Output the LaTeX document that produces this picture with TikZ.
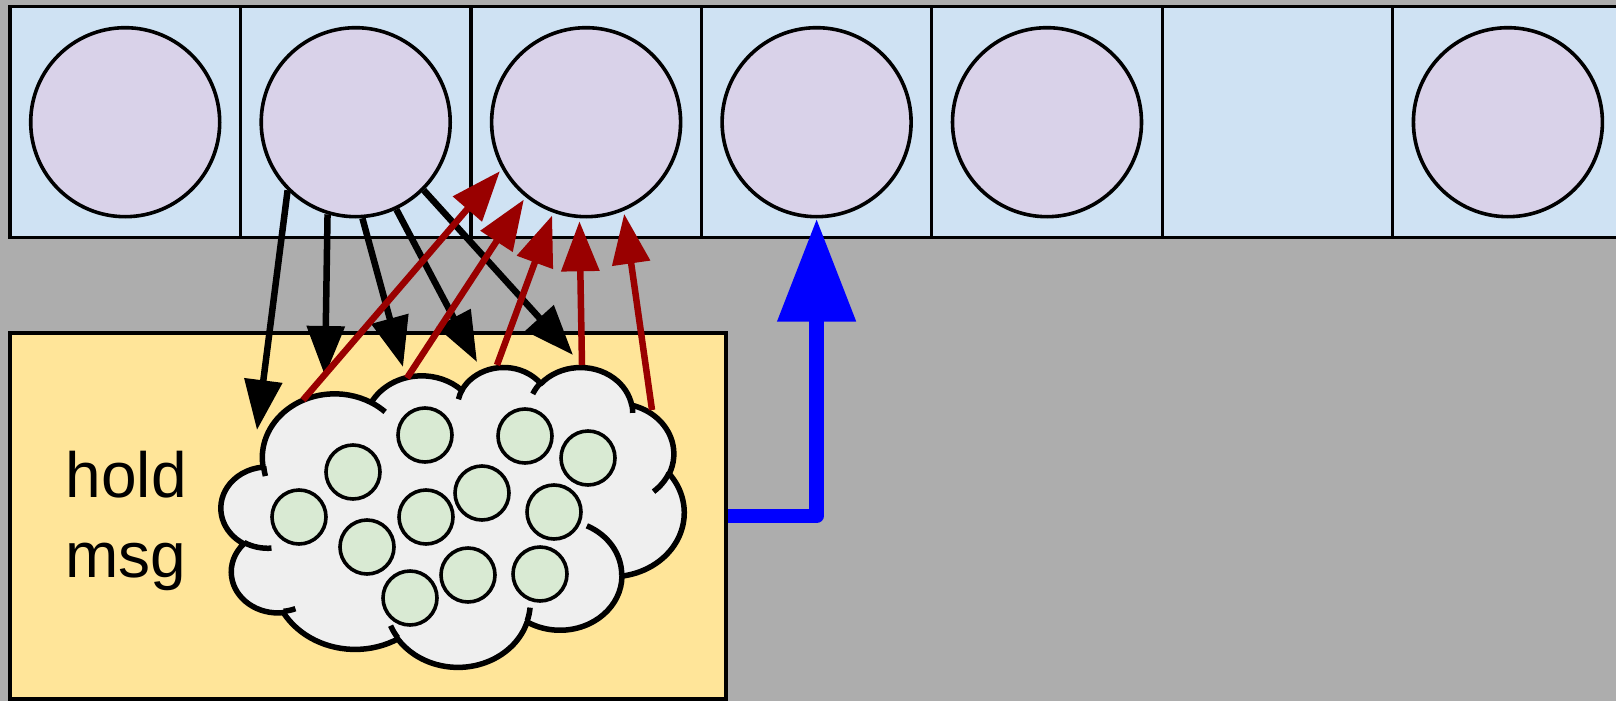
\documentclass[tikz,border=0pt]{standalone}
\usepackage{fontspec}
\setmainfont{Liberation Sans}
\usetikzlibrary{arrows.meta}

\definecolor{bggray}{RGB}{173,173,173}
\definecolor{slotblue}{RGB}{207,226,243}
\definecolor{proclilac}{RGB}{217,210,233}
\definecolor{holdyellow}{RGB}{255,229,153}
\definecolor{cloudgray}{RGB}{239,239,239}
\definecolor{msggreen}{RGB}{217,234,211}
\definecolor{darkred}{RGB}{153,0,0}

% one bump of the cloud: x radius, y radius, start angle, sweep
\tikzset{
  puff/.style n args={4}{insert path={arc[x radius=#1, y radius=#2,
      start angle={atan2(#1*sin(#3),#2*cos(#3))},
      delta angle={Mod(atan2(#1*sin(#3+#4),#2*cos(#3+#4))-atan2(#1*sin(#3),#2*cos(#3)),360)}]}}
}

\begin{document}
\begin{tikzpicture}[x=0.1mm, y=-0.1mm,
    slot/.style={rectangle, draw, line width=0.33mm, fill=slotblue,
      minimum width=23.045mm, minimum height=23.1mm, inner sep=0},
    proc/.style={circle, draw, line width=0.36mm, fill=proclilac, minimum size=18.9mm, inner sep=0},
    msg/.style={circle, draw, line width=0.36mm, fill=msggreen, minimum size=5.4mm, inner sep=0},
    take/.style={line width=0.65mm, -{Triangle[length=5mm, width=3.7mm]}},
    give/.style={line width=0.65mm, draw=darkred, -{Triangle[length=5mm, width=3.7mm]}, shorten >=0.3mm},
    wake/.style={line width=1.45mm, draw=blue, line join=round, -{Triangle[length=10.3mm, width=7.5mm]}},
    cloudline/.style={line width=0.55mm, line join=round}]
    \useasboundingbox (0,0) rectangle (1616,701);
    \clip (0,0) rectangle (1616,701);
    \fill[bggray] (0,0) rectangle (1616,701);

    % the row of slots
    \node[slot] (slot1) at (125.2,122.2) {};
    \node[slot] (slot2) at (355.7,122.2) {};
    \node[slot] (slot3) at (586.1,122.2) {};
    \node[slot] (slot4) at (816.6,122.2) {};
    \node[slot] (slot5) at (1047.0,122.2) {};
    \node[slot] (slot6) at (1277.5,122.2) {};
    \node[slot] (slot7) at (1507.9,122.2) {};

    \node[proc] (p1) at (slot1) {};
    \node[proc] (p2) at (slot2) {};
    \node[proc] (p3) at (slot3) {};
    \node[proc] (p4) at (slot4) {};
    \node[proc] (p5) at (slot5) {};
    \node[proc] (p7) at (slot7) {};

    % holding area
    \node[rectangle, draw, line width=0.33mm, fill=holdyellow, minimum width=71.6mm,
      minimum height=36.6mm, inner sep=0] (hold) at (368,516) {};
    \node[anchor=west, align=left, inner sep=0, font=\fontsize{18.2pt}{22.6pt}\selectfont]
      (label) at (65,521) {hold\\msg};

    % the cloud
    \begin{scope}[xshift=22.12mm, yshift=-36.65mm, x=0.10714mm, y=-0.0694mm]
      \draw[cloudline, fill=cloudgray] (39.00,143.70)
        [puff={67.53}{91.90}{-190.4875}{123.7805}]
        [puff={53.33}{72.67}{-144.1024}{89.9452}]
        [puff={43.65}{59.45}{-145.8079}{99.7230}]
        [puff={48.57}{65.95}{-130.9861}{117.2417}]
        [puff={53.33}{72.73}{-78.7089}{109.0269}]
        [puff={67.75}{92.20}{-46.2673}{130.2690}]
        [puff={57.85}{78.67}{0.6250}{114.0333}]
        [puff={67.52}{92.15}{22.4516}{115.1726}]
        [puff={77.20}{105.43}{66.2426}{75.7110}]
        [puff={43.60}{59.18}{-274.9421}{146.7356}]
        [puff={43.45}{59.45}{-246.8285}{152.5189}] -- cycle;
      \draw[cloudline]
        (46.93,261.77) [puff={43.45}{59.45}{86.7420}{26.4295}]
        (69.28,348.99) [puff={43.60}{59.18}{73.6105}{11.4475}]
        (164.78,390.90) [puff={67.52}{92.15}{137.6242}{14.0811}]
        (288.27,347.51) [puff={67.52}{92.15}{6.4533}{15.9984}]
        (341.29,229.54) [puff={57.85}{78.67}{-70.2924}{70.9174}]
        (417.98,153.54) [puff={53.33}{72.73}{30.3180}{27.7515}]
        (383.24,54.26) [puff={48.57}{65.95}{-13.7443}{14.8589}]
        (290.78,39.52) [puff={48.57}{65.95}{-149.1815}{18.1954}]
        (221.41,47.20) [puff={43.65}{59.45}{-163.4943}{17.6864}]
        (140.00,51.92) [puff={67.53}{91.90}{-66.7070}{12.3194}]
        (41.27,157.89) [puff={67.53}{91.90}{162.0479}{11.8539}];
    \end{scope}

    % messages waiting in the cloud
    \node[msg] (m1) at (425,435) {};
    \node[msg] (m2) at (525,436) {};
    \node[msg] (m3) at (588,458) {};
    \node[msg] (m4) at (353,472) {};
    \node[msg] (m5) at (482,493) {};
    \node[msg] (m6) at (299,517) {};
    \node[msg] (m7) at (426,517) {};
    \node[msg] (m8) at (554,512) {};
    \node[msg] (m9) at (367,547) {};
    \node[msg] (m10) at (468,575) {};
    \node[msg] (m11) at (540,574) {};
    \node[msg] (m12) at (410,598) {};

    % p2 sends into the cloud
    \coordinate (in1) at (257,430);
    \coordinate (in2) at (325,376);
    \coordinate (in3) at (403,367);
    \coordinate (in4) at (477,362);
    \coordinate (in5) at (573,355);
    \draw[take] (p2.225) -- (in1);
    \draw[take] (p2.253) -- (in2);
    \draw[take] (p2.274) -- (in3);
    \draw[take] (p2.295) -- (in4);
    \draw[take] (p2.315) -- (in5);

    % p3 receives from the cloud
    \coordinate (out1) at (303,400);
    \coordinate (out2) at (407,378);
    \coordinate (out3) at (497,365);
    \coordinate (out4) at (582,365);
    \coordinate (out5) at (652,410);
    \draw[give] (out1) -- (p3.209);
    \draw[give] (out2) -- (p3.231);
    \draw[give] (out3) -- (p3.250);
    \draw[give] (out4) -- (p3.266);
    \draw[give] (out5) -- (p3.293);

    \draw[wake] (hold.east) -| (p4.south);
\end{tikzpicture}
\end{document}
